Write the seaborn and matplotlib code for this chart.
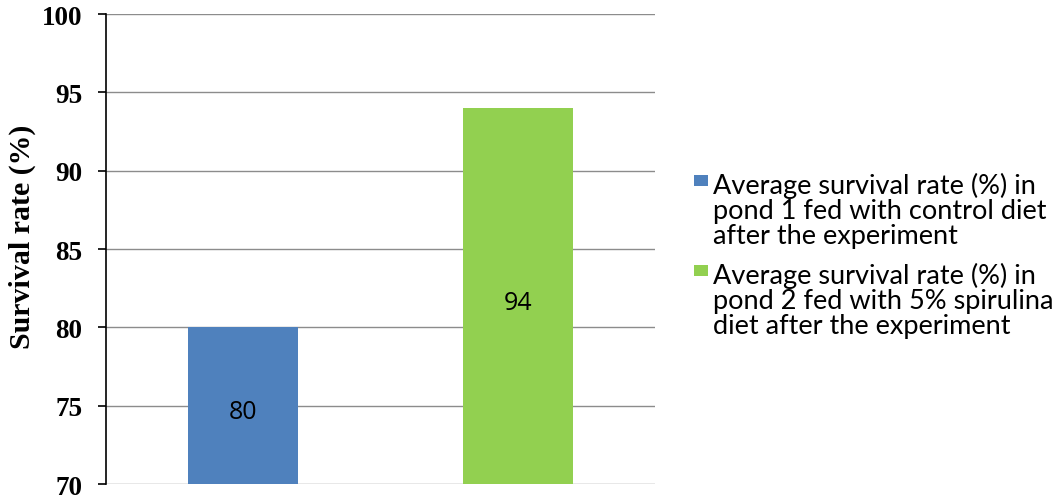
import matplotlib
matplotlib.use("Agg")
import matplotlib.pyplot as plt
import seaborn as sns
import pandas as pd
from matplotlib.patches import Rectangle

groups = [
    "Average survival rate (%) in\npond 1 fed with control diet\nafter the experiment",
    "Average survival rate (%) in\npond 2 fed with 5% spirulina\ndiet after the experiment",
]
survival = [80, 94]
colors = ["#4F81BD", "#92D050"]
yticks = [70, 75, 80, 85, 90, 95, 100]

df = pd.DataFrame({"group": groups, "survival": survival})

sns.set_theme(style="white", rc={"text.color": "black", "axes.labelcolor": "black",
                                 "xtick.color": "black", "ytick.color": "black"})
W, H = 1059, 502
fig = plt.figure(figsize=(W / 100, H / 100), dpi=100)
ax = fig.add_axes([106 / W, 1 - 485 / H, (655 - 106) / W, (485 - 15) / H])

sns.barplot(data=df, x="group", y="survival", hue="group", palette=colors,
            saturation=1, width=0.4, dodge=False, legend=False, ax=ax,
            linewidth=0, zorder=3)

ax.set_ylim(70, 100)
ax.set_xlim(-0.5, 1.5)
ax.set_yticks(yticks)
ax.set_yticklabels([str(t) for t in yticks], fontfamily="Liberation Serif",
                   fontweight="bold", fontsize=19.5)
ax.tick_params(axis="y", direction="out", length=6, width=1.2, color="black",
               pad=11, left=True)
ax.set_xticks([])
ax.set_xlabel("")
ax.set_ylabel("Survival rate (%)", fontfamily="Liberation Serif",
              fontweight="bold", fontsize=21.5)
ax.yaxis.set_label_coords(-0.128, 0.528)

ax.grid(axis="y", color="#8C8C8C", linewidth=1.0, zorder=0)
ax.set_axisbelow(True)
for s in ["top", "right", "bottom"]:
    ax.spines[s].set_visible(False)
ax.spines["left"].set_color("black")
ax.spines["left"].set_linewidth(1.2)

for bar, val in zip(ax.patches, survival):
    cx = bar.get_x() + bar.get_width() / 2
    ax.annotate(f"{val}", (cx, 70 + (val - 70) / 2), xytext=(0, -6),
                textcoords="offset pixels", ha="center", va="center",
                fontsize=18, fontfamily="Open Sans", color="black", zorder=4)

# legend: colour key beside the first line of each wrapped label
for i, (label, c) in enumerate(zip(groups, colors)):
    top = 176 + 90 * i
    fig.add_artist(Rectangle((694 / W, 1 - (top + 11) / H), 14 / W, 11 / H,
                             transform=fig.transFigure, facecolor=c,
                             edgecolor="none"))
    fig.text(713 / W, 1 - (top - 3) / H, label, ha="left", va="top",
             fontsize=19.5, fontfamily="Lato", linespacing=1.0, color="black")

fig.savefig("out.png", dpi=100, facecolor="white")
